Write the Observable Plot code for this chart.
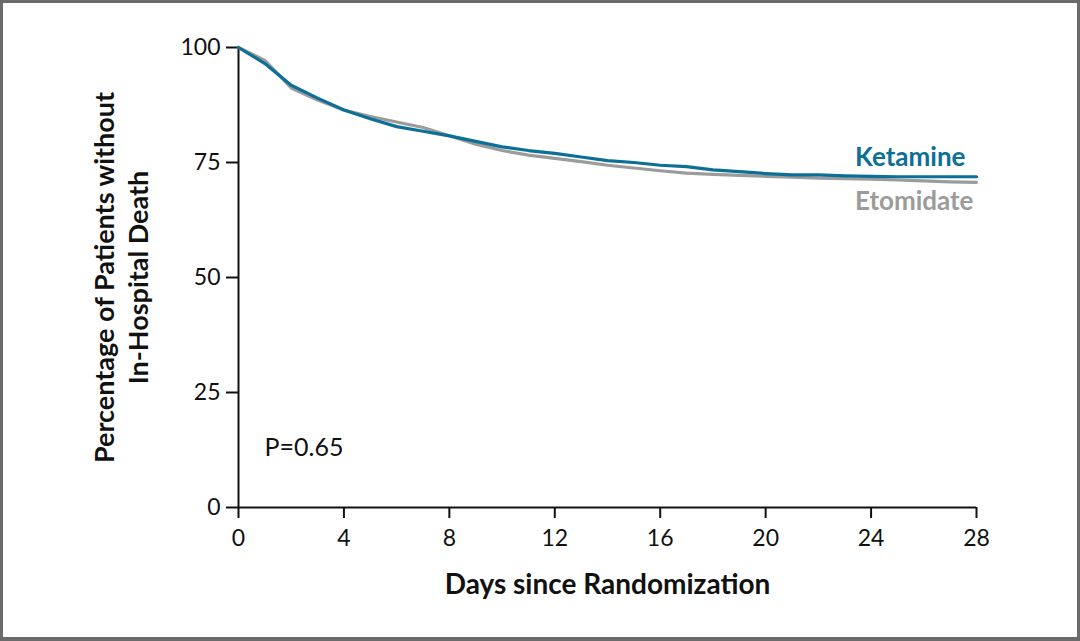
<!DOCTYPE html>
<html>
<head>
<meta charset="utf-8">
<script src="https://cdn.jsdelivr.net/npm/d3@7"></script>
<script src="https://cdn.jsdelivr.net/npm/@observablehq/plot@0.6"></script>
<style>
  html, body { margin: 0; padding: 0; background: #fff; }
  #wrap { position: relative; width: 1080px; height: 641px; overflow: hidden; }
  #wrap svg { position: absolute; left: 0; top: 0; }
  #border { position: absolute; left: 0; top: 0; right: 0; bottom: 0;
            border: 3px solid #6b6b6b; border-bottom-width: 4px; pointer-events: none; }
</style>
</head>
<body>
<div id="wrap"><div id="border"></div></div>
<script>
const days = [0,1,2,3,4,5,6,7,8,9,10,11,12,13,14,15,16,17,18,19,20,21,22,23,24,25,26,27,28];
const ketamine = [100,96.5,91.8,89.0,86.4,84.5,82.8,81.8,80.8,79.6,78.4,77.6,77.0,76.2,75.4,75.0,74.4,74.1,73.4,73.0,72.6,72.3,72.3,72.1,72.0,71.9,71.9,71.9,71.9];
const etomidate = [100,97.2,91.2,88.6,86.4,85.0,83.8,82.6,80.8,79.0,77.6,76.6,75.9,75.2,74.4,73.8,73.2,72.7,72.4,72.2,72.0,71.8,71.6,71.5,71.4,71.2,71.0,70.8,70.7];
const xTicks = [0,4,8,12,16,20,24,28];
const yTicks = [0,25,50,75,100];
const seriesNames = ["Ketamine","Etomidate"];
const seriesColors = ["#0b6f96","#9b9b9b"];
const pValueLabel = "P=0.65";
const xTitle = "Days since Randomization";
const yTitle = "Percentage of Patients without\nIn-Hospital Death";

const rows = [];
days.forEach((d,i) => {
  rows.push({day: d, pct: etomidate[i], group: "Etomidate"});
});
days.forEach((d,i) => {
  rows.push({day: d, pct: ketamine[i], group: "Ketamine"});
});
const last = days.length - 1;
const endLabels = [
  {day: days[last], pct: ketamine[last], group: "Ketamine"},
  {day: days[last], pct: etomidate[last], group: "Etomidate"}
];

const chart = Plot.plot({
  width: 1080,
  height: 641,
  marginLeft: 238,
  marginRight: 104,
  marginTop: 47,
  marginBottom: 134,
  style: {fontFamily: "Lato, 'Open Sans', sans-serif", fontSize: "22px", color: "#111", background: "transparent"},
  x: {domain: [0, 28]},
  y: {domain: [0, 100]},
  color: {domain: seriesNames, range: seriesColors},
  marks: [
    Plot.axisX({ticks: xTicks, tickSize: 11, tickPadding: 11, fontSize: 23, label: null, stroke: "#111", strokeWidth: 2}),
    Plot.axisY({ticks: yTicks, tickSize: 12, tickPadding: 6, fontSize: 23, label: null, stroke: "#111", strokeWidth: 2}),
    Plot.ruleX([0], {stroke: "#111", strokeWidth: 2}),
    Plot.ruleY([0], {stroke: "#111", strokeWidth: 2}),
    Plot.line(rows, {x: "day", y: "pct", z: "group", stroke: "group", strokeWidth: 3.2, curve: "linear"}),
    Plot.text(endLabels.filter(d => d.group === "Ketamine"), {x: "day", y: "pct", text: "group", fill: seriesColors[0], textAnchor: "end", dx: -11, dy: -19, fontWeight: "bold", fontSize: 26}),
    Plot.text(endLabels.filter(d => d.group === "Etomidate"), {x: "day", y: "pct", text: "group", fill: seriesColors[1], textAnchor: "end", dx: -3, dy: 19, fontWeight: "bold", fontSize: 26}),
    Plot.text([pValueLabel], {frameAnchor: "bottom-left", dx: 26, dy: -52, textAnchor: "start", fontSize: 25, fill: "#111"}),
    Plot.text([xTitle], {frameAnchor: "bottom", dy: 86, fontWeight: "bold", fontSize: 28, fill: "#111"}),
    Plot.text([yTitle], {frameAnchor: "left", textAnchor: "middle", dx: -118, rotate: -90, lineHeight: 1.25, fontWeight: "bold", fontSize: 27, fill: "#111"})
  ]
});
document.getElementById("wrap").insertBefore(chart, document.getElementById("border"));
</script>
</body>
</html>
